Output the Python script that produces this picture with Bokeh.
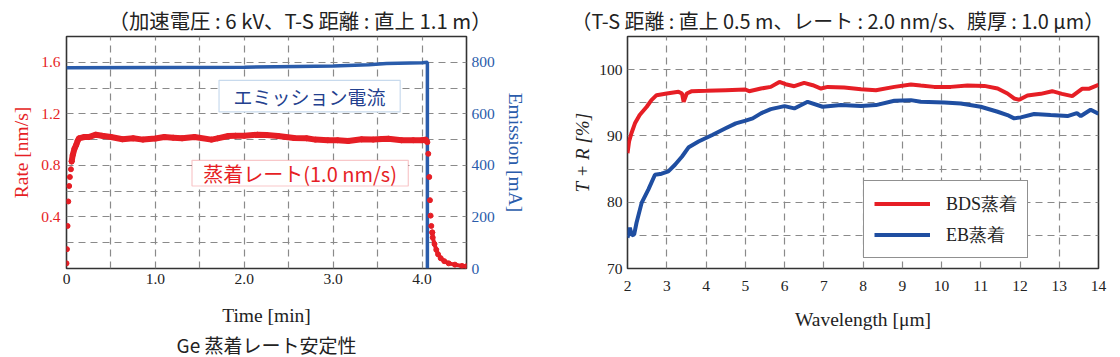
from bokeh.plotting import figure
from bokeh.models import (Range1d, LinearAxis, FixedTicker, Label, BoxAnnotation,
                          Legend, LegendItem, Title)
from bokeh.layouts import row
from bokeh.embed import file_html
from bokeh.resources import INLINE

RED = "#e61e25"
BLUE_L = "#2a5cab"
BLUE_R = "#1f4ea1"
GRID = "#8a8a8a"
FRAME = "#333333"
TXT = "#222222"
SERIF = "Liberation Serif"
SANS = "Noto Sans CJK JP"

# ---------------- Left chart data (Ge deposition rate stability) ----------------
rise_time = [0.0, 0.005, 0.012, 0.02, 0.03, 0.038, 0.05, 0.058]
rise_rate = [0.04, 0.15, 0.33, 0.52, 0.64, 0.71, 0.77, 0.83]

plateau_time = [0.058, 0.07, 0.09, 0.11, 0.125, 0.14, 0.2, 0.25, 0.33, 0.4, 0.5, 0.63,
                0.75, 0.86, 1.0, 1.1, 1.2, 1.3, 1.44, 1.63, 1.7, 1.82, 1.9, 2.0,
                2.15, 2.25, 2.38, 2.47, 2.56, 2.7, 2.8, 2.94, 3.05, 3.17, 3.32,
                3.45, 3.55, 3.62, 3.77, 3.9, 4.0, 4.04, 4.06]
plateau_rate = [0.83, 0.88, 0.93, 0.96, 0.99, 1.01, 1.02, 1.02, 1.038, 1.03, 1.02, 1.003,
                1.01, 1.0, 1.008, 1.02, 1.015, 1.01, 1.02, 1.0, 1.01, 1.028, 1.03, 1.03,
                1.038, 1.035, 1.028, 1.02, 1.013, 1.01, 1.0, 0.995, 0.995, 0.99, 1.002,
                1.0, 1.005, 1.007, 0.995, 0.995, 0.995, 1.0, 0.98]

decay_time = [4.07, 4.081, 4.089, 4.096, 4.104, 4.115]
decay_rate = [0.89, 0.71, 0.53, 0.41, 0.33, 0.28]

tail_time = [4.115, 4.12, 4.14, 4.16, 4.18, 4.21, 4.25, 4.3, 4.37, 4.45, 4.5]
tail_rate = [0.28, 0.24, 0.19, 0.145, 0.11, 0.08, 0.057, 0.04, 0.03, 0.02, 0.017]

emission_time = [0.0, 1.0, 2.0, 2.6, 3.0, 3.4, 3.6, 4.0, 4.06, 4.06]
emission_ma = [779, 780, 781, 784, 786, 790, 795, 798, 800, 0]

time_ticks = [0, 1, 2, 3, 4]
time_tick_labels = ["0", "1.0", "2.0", "3.0", "4.0"]
time_grid = [0.5, 1.0, 1.5, 2.0, 2.5, 3.0, 3.5, 4.0]
rate_ticks = [0.4, 0.8, 1.2, 1.6]
rate_grid = [0.2, 0.4, 0.6, 0.8, 1.0, 1.2, 1.4, 1.6]
emission_ticks = [0, 200, 400, 600, 800]

# ---------------- Right chart data (T + R spectra) ----------------
wl_bds = [2.0, 2.04, 2.1, 2.19, 2.31, 2.49, 2.61, 2.74, 3.0, 3.3, 3.39, 3.43, 3.51,
          3.64, 4.0, 4.5, 5.0, 5.1, 5.4, 5.65, 5.87, 6.03, 6.25, 6.5, 6.72, 6.93,
          7.1, 7.52, 7.95, 8.33, 8.8, 9.22, 9.47, 9.81, 10.24, 10.66, 11.09, 11.43,
          11.68, 11.85, 11.98, 12.19, 12.53, 12.82, 13.07, 13.33, 13.58, 13.75, 14.0]
tr_bds = [87.4, 89.15, 90.4, 91.9, 93.15, 94.4, 95.4, 96.15, 96.4, 96.65, 96.4, 95.15,
          96.4, 96.75, 96.8, 96.9, 97.0, 96.75, 97.15, 97.4, 98.15, 97.8, 97.5, 98.0,
          97.65, 97.15, 97.4, 97.3, 97.05, 96.9, 97.4, 97.75, 97.6, 97.4, 97.4, 97.6,
          97.55, 97.15, 96.4, 95.65, 95.45, 96.1, 96.35, 96.75, 96.35, 96.0, 97.1,
          97.1, 97.7]

wl_eb = [2.0, 2.06, 2.11, 2.17, 2.23, 2.36, 2.53, 2.7, 2.87, 3.04, 3.21, 3.39, 3.56,
         3.81, 4.16, 4.5, 4.76, 5.01, 5.19, 5.4, 5.65, 6.0, 6.25, 6.59, 6.97, 7.44,
         7.95, 8.33, 8.8, 9.22, 9.47, 10.07, 10.49, 11.0, 11.43, 11.68, 11.85, 12.02,
         12.36, 12.78, 13.21, 13.45, 13.55, 13.8, 14.0]
tr_eb = [74.65, 76.15, 75.0, 75.15, 76.9, 79.9, 81.9, 84.15, 84.3, 84.65, 85.65, 86.9,
         88.3, 89.15, 90.15, 91.15, 91.9, 92.3, 92.65, 93.4, 94.05, 94.5, 94.15, 95.15,
         94.4, 94.65, 94.5, 94.65, 95.3, 95.4, 95.15, 95.05, 94.9, 94.4, 93.65, 93.15,
         92.65, 92.8, 93.3, 93.15, 93.0, 93.45, 93.0, 93.95, 93.35]

wl_ticks = list(range(2, 15))
tr_ticks = [70, 80, 90, 100]
tr_grid = [75, 80, 85, 90, 95, 100]


def style_common(p):
    p.background_fill_color = "white"
    p.border_fill_color = "white"
    p.outline_line_color = FRAME
    p.outline_line_width = 1.6
    for g in (p.xgrid, p.ygrid):
        g.grid_line_color = GRID
        g.grid_line_width = 1.2
        g.grid_line_dash = "7 5"
    for ax in p.axis:
        ax.axis_line_color = None
        ax.major_tick_line_color = None
        ax.minor_tick_line_color = None
        ax.major_tick_in = 0
        ax.major_tick_out = 0
        ax.major_label_text_font = SERIF
        ax.major_label_text_font_size = "15.5px"
        ax.major_label_text_color = TXT
        ax.axis_label_text_font = SERIF
        ax.axis_label_text_font_size = "19.5px"
        ax.axis_label_text_font_style = "normal"
        ax.axis_label_text_color = TXT


def style_title(t, size="19px"):
    t.text_font = SANS
    t.text_font_size = size
    t.text_font_style = "normal"
    t.text_color = TXT


# ================= Left figure =================
p1 = figure(width=560, height=357, output_backend="svg", toolbar_location=None,
            x_range=Range1d(0, 4.5), y_range=Range1d(0, 1.8),
            min_border_left=66, min_border_right=94, min_border_top=36,
            min_border_bottom=86)
p1.extra_y_ranges = {"em": Range1d(0, 900)}
p1.add_layout(LinearAxis(y_range_name="em"), "right")
style_common(p1)

p1.title.text = "（加速電圧 : 6 kV、T-S 距離 : 直上 1.1 m）"
p1.title.align = "left"
p1.title.offset = 42
p1.title.standoff = 4
style_title(p1.title, "20.4px")

p1.xaxis.ticker = FixedTicker(ticks=time_ticks)
p1.xaxis.major_label_overrides = {t: s for t, s in zip(time_ticks, time_tick_labels)}
p1.xaxis.major_label_standoff = 5
p1.xaxis.axis_label = "Time [min]"
p1.xaxis.axis_label_standoff = 18
p1.xgrid.ticker = FixedTicker(ticks=time_grid)

rate_axis = p1.yaxis[0]
rate_axis.ticker = FixedTicker(ticks=rate_ticks)
rate_axis.major_label_text_color = RED
rate_axis.major_label_standoff = 6
rate_axis.axis_label = "Rate [nm/s]"
rate_axis.axis_label_text_color = RED
rate_axis.axis_label_standoff = 6
p1.ygrid.ticker = FixedTicker(ticks=rate_grid)

em_axis = p1.yaxis[1]
em_axis.ticker = FixedTicker(ticks=emission_ticks)
em_axis.major_label_text_color = BLUE_L
em_axis.major_label_standoff = 5
em_axis.axis_label = "Emission [mA]"
em_axis.axis_label_text_color = BLUE_L
em_axis.axis_label_standoff = 7

sub = Title(text="Ge 蒸着レート安定性", align="center", standoff=0)
style_title(sub)
p1.add_layout(sub, "below")

p1.line(emission_time, emission_ma, y_range_name="em", line_color=BLUE_L,
        line_width=3.5)
p1.line(plateau_time, plateau_rate, line_color=RED, line_width=6)
p1.line(tail_time, tail_rate, line_color=RED, line_width=4)
p1.scatter(rise_time + plateau_time + decay_time + tail_time,
           rise_rate + plateau_rate + decay_rate + tail_rate,
           size=5, color=RED)

# annotation boxes
p1.add_layout(BoxAnnotation(left=1.716, right=3.754, bottom=1.215, top=1.46,
                            fill_color="white", fill_alpha=1.0,
                            line_color="#4a86c5", line_width=1.2))
p1.add_layout(Label(x=2.735, y=1.337, text="エミッション電流", text_font=SANS,
                    text_font_size="19px", text_color="#23408e",
                    text_align="center", text_baseline="middle"))
p1.add_layout(BoxAnnotation(left=1.412, right=3.845, bottom=0.64, top=0.839,
                            fill_color="white", fill_alpha=1.0,
                            line_color="#e8474d", line_width=1.2))
p1.add_layout(Label(x=2.628, y=0.739, text="蒸着レート(1.0 nm/s)", text_font=SANS,
                    text_font_size="20px", text_color=RED,
                    text_align="center", text_baseline="middle"))

# ================= Right figure =================
p2 = figure(width=560, height=357, output_backend="svg", toolbar_location=None,
            x_range=Range1d(2, 14), y_range=Range1d(70, 105),
            min_border_left=67, min_border_right=22, min_border_top=36,
            min_border_bottom=88)
style_common(p2)
p2.title.text = "（T-S 距離 : 直上 0.5 m、レート : 2.0 nm/s、膜厚 : 1.0 μm）"
p2.title.align = "left"
p2.title.offset = -56
p2.title.standoff = 4
style_title(p2.title, "19.9px")

p2.xaxis.ticker = FixedTicker(ticks=wl_ticks)
p2.xaxis.major_label_standoff = 12
p2.xaxis.axis_label = "Wavelength [μm]"
p2.xaxis.axis_label_standoff = 15
p2.xgrid.ticker = FixedTicker(ticks=wl_ticks)
p2.yaxis.ticker = FixedTicker(ticks=tr_ticks)
p2.yaxis.major_label_standoff = 5
p2.yaxis.axis_label = "T + R [%]"
p2.yaxis.axis_label_text_font_style = "italic"
p2.yaxis.axis_label_text_font_size = "19px"
p2.yaxis.axis_label_standoff = 3
p2.ygrid.ticker = FixedTicker(ticks=tr_grid)

r_bds = p2.line(wl_bds, tr_bds, line_color=RED, line_width=4)
r_eb = p2.line(wl_eb, tr_eb, line_color=BLUE_R, line_width=4)

legend = Legend(items=[LegendItem(label="BDS蒸着", renderers=[r_bds]),
                       LegendItem(label="EB蒸着", renderers=[r_eb])],
                location=(236, 10), margin=0, padding=10, spacing=6,
                label_height=25, glyph_height=25, glyph_width=56,
                label_standoff=16, border_line_color="#222222",
                border_line_width=1.5, background_fill_alpha=1.0,
                label_text_font=SERIF, label_text_font_size="18px",
                label_text_color=TXT)
p2.add_layout(legend)

layout = row(p1, p2)
open("out.html", "w").write(file_html(layout, INLINE))
